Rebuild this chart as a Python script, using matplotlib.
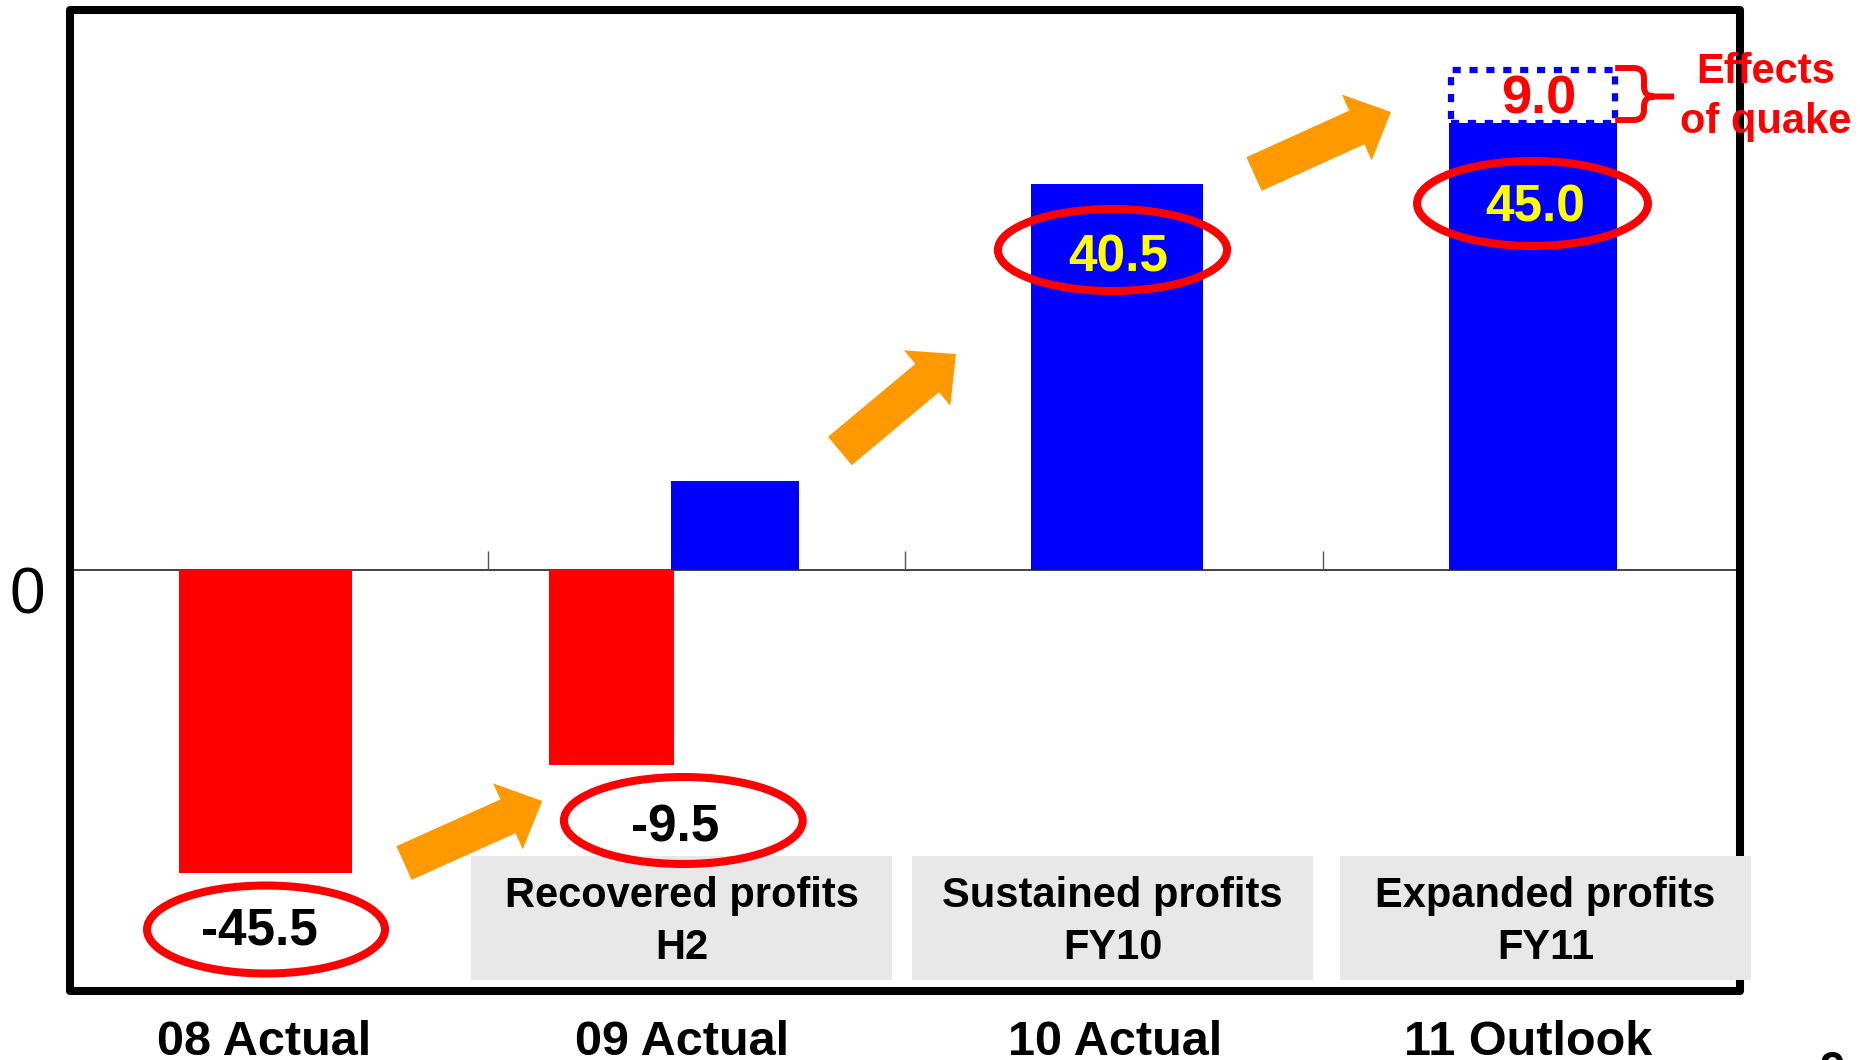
import numpy as np
import matplotlib
matplotlib.use('Agg')
import matplotlib.pyplot as plt
from matplotlib.patches import Rectangle, Ellipse, PathPatch
from matplotlib.path import Path

plt.rcParams['font.family'] = ['Liberation Sans', 'DejaVu Sans']

# 数据：柱高为图中的示意高度，标签为实际数值
categories = ['08 Actual', '09 Actual', '10 Actual', '11 Outlook']
bar_group = [0, 1, 1, 2, 3]
bar_height = [-30.3, -19.5, 8.9, 38.6, 44.7]
bar_color = ['#FF0000', '#FF0000', '#0000FF', '#0000FF', '#0000FF']
value_labels = ['-45.5', '-9.5', '40.5', '45.0']
quake_value = '9.0'
quake_height = 5.3
stage_labels = ['Recovered profits\nH2', 'Sustained profits\nFY10', 'Expanded profits\nFY11']

# 版式
bar_offset = [-0.032, -0.203, 0.093, 0.008, 0.004]
bar_width = [0.414, 0.299, 0.307, 0.412, 0.402]
label_shift = [-0.004, 0.018, -0.004, -0.012]
RED, BLUE, ORANGE, YELLOW, GRAY = '#FF0000', '#0000FF', '#FF9900', '#FFFF00', '#E8E8E8'

fig = plt.figure(figsize=(18.6, 10.6), dpi=100)
ax = fig.add_axes([70 / 1860, 69 / 1060, 1670 / 1860, 981 / 1060])
ax.set_xlim(-0.5, 3.5)
ax.set_ylim(-42.1, 56.0)
for s in ax.spines.values():
    s.set_visible(False)
ax.add_patch(Rectangle((0, 0), 1, 1, transform=ax.transAxes, fill=False, ec='black',
                       lw=5.8, joinstyle='round', clip_on=False, zorder=2.5))

# 柱子
xs = [g + o for g, o in zip(bar_group, bar_offset)]
ax.bar(xs, bar_height, width=bar_width, color=bar_color, zorder=2)

# 零线和分隔刻度
ax.axhline(0, color='#222222', lw=1.2, zorder=1)
ax.vlines([0.5, 1.5, 2.5], 0, 1.9, color='#555555', lw=1.0, zorder=1)

# 分类标签放在每组柱子中间
centers = []
for g in range(len(categories)):
    ls = [x - w / 2 for x, w, gg in zip(xs, bar_width, bar_group) if gg == g]
    rs = [x + w / 2 for x, w, gg in zip(xs, bar_width, bar_group) if gg == g]
    centers.append((min(ls) + max(rs)) / 2 + label_shift[g])
ax.set_xticks(centers, categories, fontsize=35, fontweight='bold')
ax.tick_params(axis='x', length=0, pad=21)
ax.set_yticks([])
ax.text(-0.0257, -2.7, '0', transform=ax.get_yaxis_transform(), fontsize=46,
        ha='center', va='center')

# 灰色说明框
box_x = [(0.4605, 1.469), (1.517, 2.477), (2.542, 3.526)]
for (x0, x1), lab in zip(box_x, stage_labels):
    ax.add_patch(Rectangle((x0, -41.0), x1 - x0, 12.4, fc=GRAY, ec='none',
                           zorder=3, clip_on=False))
    ax.text((x0 + x1) / 2, -35.2, lab, ha='center', va='center', fontsize=30,
            fontweight='bold', linespacing=1.4, zorder=4)

# 红色椭圆与数值
ell = [(-0.0305, -35.95, 0.570, 8.8), (0.969, -25.05, 0.572, 8.7),
       (1.997, 32.0, 0.549, 8.2), (3.003, 36.65, 0.553, 8.5)]
txt_pos = [(-0.047, -36.1), (0.949, -25.85), (2.010, 31.2), (3.009, 36.25)]
txt_col = ['black', 'black', YELLOW, YELLOW]
for (cx, cy, w, h), (tx, ty), lab, c in zip(ell, txt_pos, value_labels, txt_col):
    ax.add_patch(Ellipse((cx, cy), w, h, fill=False, ec=RED, lw=5.8, zorder=5, clip_on=False))
    ax.text(tx, ty, lab, ha='center', va='center', fontsize=37, fontweight='bold',
            color=c, zorder=6)

# 地震影响：虚线框 + 括号
qx = xs[-1] - bar_width[-1] / 2
qw = bar_width[-1]
qy0 = bar_height[-1]
qy1 = qy0 + quake_height
ax.add_patch(Rectangle((qx + 0.004, qy0), qw - 0.008, quake_height, fill=False, ec=BLUE,
                       lw=4.5, ls=(0, (1.3, 1.4)), capstyle='butt', zorder=4))
ax.text(3.019, 47.1, quake_value, ha='center', va='center', fontsize=39,
        fontweight='bold', color=RED, zorder=6)

xa = qx + qw - 0.004
xb = xa + 0.069
xc = xb + 0.072
ym = (qy0 + qy1) / 2
rx, ry = 0.024, 1.0
yt, yb = qy1 + 0.2, qy0 + 0.3
verts = [(xa, yt), (xb - rx, yt), (xb, yt), (xb, yt - ry), (xb, ym + ry), (xb, ym),
         (xb + rx, ym), (xc, ym),
         (xb + rx, ym), (xb, ym), (xb, ym - ry), (xb, yb + ry), (xb, yb), (xb - rx, yb),
         (xa, yb)]
codes = [Path.MOVETO, Path.LINETO, Path.CURVE3, Path.CURVE3, Path.LINETO, Path.CURVE3,
         Path.CURVE3, Path.LINETO,
         Path.MOVETO, Path.CURVE3, Path.CURVE3, Path.LINETO, Path.CURVE3, Path.CURVE3,
         Path.LINETO]
ax.add_patch(PathPatch(Path(verts, codes), fill=False, ec=RED, lw=4.3,
                       capstyle='butt', clip_on=False, zorder=5))
ax.text(3.562, 47.3, 'Effects\nof quake', ha='center', va='center', fontsize=30,
        fontweight='bold', color=RED, linespacing=1.33, clip_on=False)

# 橙色箭头
arrows = [((0.300, -29.3), (0.631, -23.1)),
          ((1.344, 11.9), (1.622, 21.6)),
          ((2.336, 39.6), (2.664, 45.8))]
for tail, tip in arrows:
    ax.annotate('', xy=tip, xytext=tail,
                arrowprops=dict(arrowstyle='simple,head_length=1.35,head_width=2.6,tail_width=1.33',
                                mutation_scale=20, color=ORANGE, lw=0, shrinkA=0, shrinkB=0),
                zorder=4)

# 右下角页码（被裁掉）
fig.text(1832 / 1860, 10 / 1060, '9', ha='center', va='top', fontsize=33, fontweight='bold')

fig.savefig('out.png', dpi=100)
